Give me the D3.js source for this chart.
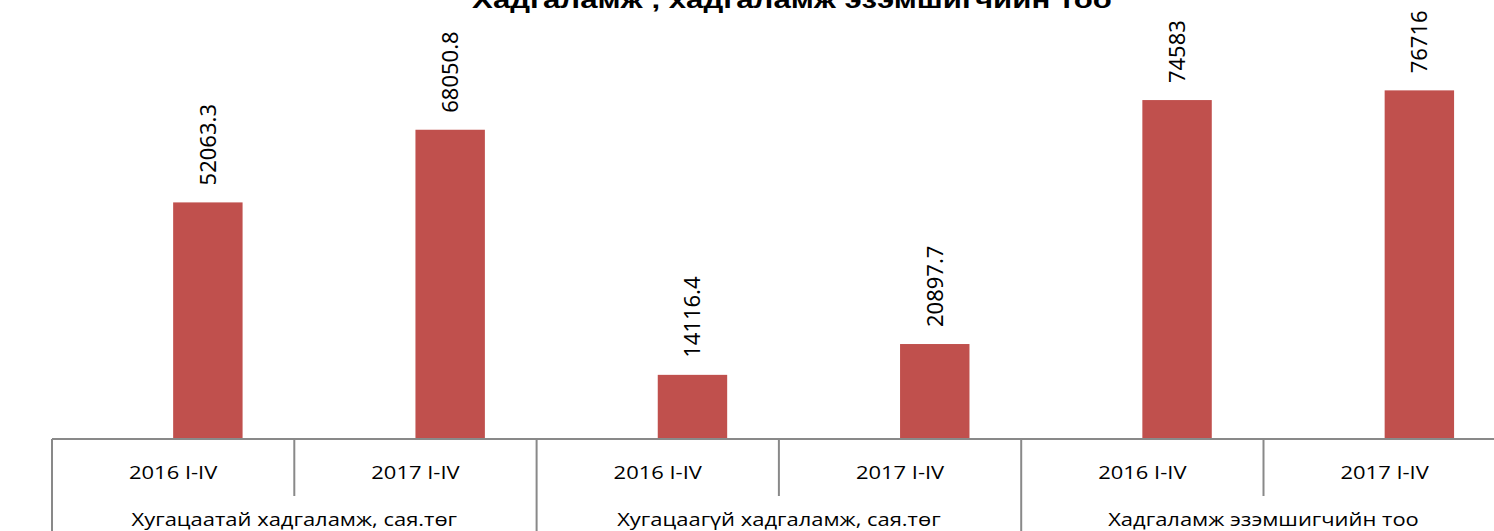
<!DOCTYPE html>
<html>
<head>
<meta charset="utf-8">
<script src="https://cdn.jsdelivr.net/npm/d3@7"></script>
<style>
  body { margin: 0; background: #fff; }
  svg { display: block; }
</style>
</head>
<body>
<svg></svg>
<script>
const svgWidth = 1494;
const svgHeight = 531;

// data
const groups = ["Хугацаатай хадгаламж, сая.төг", "Хугацаагүй хадгаламж, сая.төг", "Хадгаламж эзэмшигчийн тоо"];
const periods = ["2016 I-IV", "2017 I-IV"];
const values = [52063.3, 68050.8, 14116.4, 20897.7, 74583, 76716];
const valueLabels = ["52063.3", "68050.8", "14116.4", "20897.7", "74583", "76716"];
const title = "Хадгаламж , хадгаламж эзэмшигчийн тоо";

const categories = [];
groups.forEach(g => periods.forEach(p => categories.push({ group: g, period: p })));

const plot = { left: 52, top: 30, bottom: 439, catWidth: 242.3 };

const svg = d3.select("svg")
    .attr("width", svgWidth)
    .attr("height", svgHeight);

const xScale = d3.scaleBand()
    .domain(d3.range(categories.length))
    .range([plot.left, plot.left + plot.catWidth * categories.length])
    .padding(0);

// two series per cluster, the first one is empty
const inner = d3.scaleBand()
    .domain(["empty", "value"])
    .range([0, xScale.bandwidth()])
    .paddingInner(0)
    .paddingOuter(0.745);

const yScale = d3.scaleLinear()
    .domain([0, 90000])
    .range([plot.bottom, plot.top]);

// title (partly above the top edge, as in the original)
svg.append("text")
    .attr("transform", "translate(792,8) scale(1.3,1)")
    .attr("text-anchor", "middle")
    .style("font-family", "Liberation Sans, Arial, sans-serif")
    .style("font-weight", "bold")
    .style("font-size", "24px")
    .text(title);

// bars
svg.selectAll(".bar")
    .data(values)
    .enter().append("rect")
    .attr("class", "bar")
    .attr("x", (d, i) => xScale(i) + inner("value"))
    .attr("y", d => yScale(d))
    .attr("width", inner.bandwidth())
    .attr("height", d => yScale(0) - yScale(d))
    .attr("fill", "#C0504D");

// value labels
svg.selectAll(".val")
    .data(values)
    .enter().append("text")
    .attr("class", "val")
    .attr("transform", (d, i) => `translate(${xScale(i) + inner("value") + inner.bandwidth() / 2},${yScale(d) - 17}) rotate(-90)`)
    .attr("dy", "0.36em")
    .style("font-family", "Noto Sans, sans-serif")
    .style("font-size", "22px")
    .text((d, i) => valueLabels[i]);

// category axis
const lineColor = "#898989";
svg.append("line")
    .attr("x1", plot.left).attr("x2", svgWidth)
    .attr("y1", plot.bottom).attr("y2", plot.bottom)
    .attr("stroke", lineColor).attr("stroke-width", 2);

// boundaries between periods and between groups
d3.range(categories.length + 1).forEach(i => {
    const x = plot.left + plot.catWidth * i;
    const isGroup = i % periods.length === 0;
    svg.append("line")
        .attr("x1", x).attr("x2", x)
        .attr("y1", plot.bottom).attr("y2", isGroup ? svgHeight : 496)
        .attr("stroke", lineColor).attr("stroke-width", 2);
});

const axisFont = "Open Sans, sans-serif";
svg.selectAll(".period")
    .data(categories)
    .enter().append("text")
    .attr("class", "period")
    .attr("transform", (d, i) => `translate(${xScale(i) + xScale.bandwidth() / 2},479) scale(1.22,1)`)
    .attr("text-anchor", "middle")
    .style("font-family", axisFont)
    .style("font-size", "18px")
    .text(d => d.period);

svg.selectAll(".group")
    .data(groups)
    .enter().append("text")
    .attr("class", "group")
    .attr("transform", (d, i) => `translate(${plot.left + plot.catWidth * periods.length * (i + 0.5)},526) scale(1.22,1)`)
    .attr("text-anchor", "middle")
    .style("font-family", axisFont)
    .style("font-size", "18px")
    .text(d => d);
</script>
</body>
</html>
